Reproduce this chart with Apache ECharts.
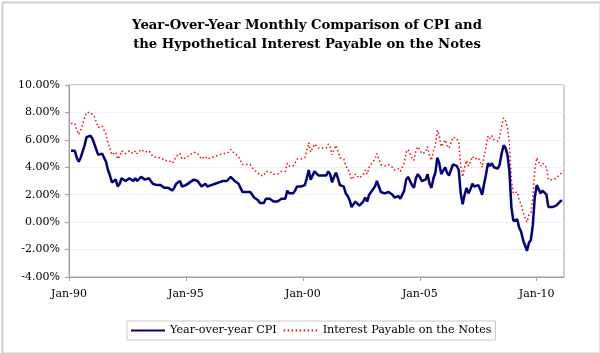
<!DOCTYPE html>
<html>
<head>
<meta charset="utf-8">
<script src="https://cdn.jsdelivr.net/npm/echarts@6/dist/echarts.min.js"></script>
<style>
html,body{margin:0;padding:0;background:#fff;}
#chart{width:600px;height:353px;}
</style>
</head>
<body>
<div id="chart"></div>
<script>
// Monthly values, Jan-1990 .. Jan-2011 (percent)
const cpi = [
 5.2, 5.3, 5.2, 4.7, 4.4, 4.7, 4.8, 5.6, 6.2, 6.3, 6.3, 6.1,
 5.7, 5.3, 4.9, 4.9, 5.0, 4.7, 4.4, 3.8, 3.4, 2.9, 3.0, 3.1,
 2.6, 2.8, 3.2, 3.2, 3.0, 3.1, 3.2, 3.1, 3.0, 3.2, 3.0, 2.9,
 3.3, 3.2, 3.1, 3.2, 3.2, 3.0, 2.8, 2.8, 2.7, 2.8, 2.7, 2.7,
 2.5, 2.5, 2.5, 2.4, 2.3, 2.5, 2.8, 2.9, 3.0, 2.6, 2.7, 2.7,
 2.8, 2.9, 2.9, 3.1, 3.2, 3.0, 2.8, 2.6, 2.5, 2.8, 2.6, 2.5,
 2.7, 2.7, 2.8, 2.9, 2.9, 2.8, 3.0, 2.9, 3.0, 3.0, 3.3, 3.3,
 3.0, 3.0, 2.8, 2.5, 2.2, 2.3, 2.2, 2.2, 2.2, 2.1, 1.8, 1.7,
 1.6, 1.4, 1.4, 1.4, 1.7, 1.7, 1.7, 1.6, 1.5, 1.5, 1.5, 1.6,
 1.7, 1.6, 1.7, 2.3, 2.1, 2.0, 2.1, 2.3, 2.6, 2.6, 2.6, 2.7,
 2.7, 3.2, 3.8, 3.1, 3.2, 3.7, 3.7, 3.4, 3.5, 3.4, 3.4, 3.4,
 3.7, 3.5, 2.9, 3.3, 3.6, 3.2, 2.7, 2.7, 2.6, 2.1, 1.9, 1.6,
 1.1, 1.1, 1.5, 1.6, 1.2, 1.1, 1.5, 1.8, 1.5, 2.0, 2.2, 2.4,
 2.6, 3.0, 3.0, 2.2, 2.1, 2.1, 2.1, 2.2, 2.3, 2.0, 1.8, 1.9,
 1.9, 1.7, 1.7, 2.3, 3.1, 3.3, 3.0, 2.7, 2.5, 3.2, 3.5, 3.3,
 3.0, 3.0, 3.1, 3.5, 2.8, 2.5, 3.2, 3.6, 4.7, 4.3, 3.5, 3.4,
 4.0, 3.6, 3.4, 3.5, 4.2, 4.3, 4.1, 3.8, 2.1, 1.3, 2.0, 2.5,
 2.1, 2.4, 2.8, 2.6, 2.7, 2.7, 2.4, 2.0, 2.8, 3.5, 4.3, 4.1,
 4.3, 4.0, 4.0, 3.9, 4.2, 5.0, 5.6, 5.4, 4.9, 3.7, 1.1, 0.1,
 0.0, 0.2, -0.4, -0.7, -1.3, -1.4, -2.1, -1.5, -1.3, -0.2, 1.8, 2.7,
 2.6, 2.1, 2.3, 2.2, 2.0, 1.1, 1.2, 1.1, 1.1, 1.2, 1.1, 1.5,
 1.6
];
const interest = [
 7.2, 7.3, 7.2, 6.7, 6.4, 6.7, 6.8, 7.6, 8.0, 8.0, 8.0, 8.0,
 7.7, 7.3, 6.9, 6.9, 7.0, 6.7, 6.4, 5.8, 5.4, 4.9, 5.0, 5.1,
 4.6, 4.8, 5.2, 5.2, 5.0, 5.1, 5.2, 5.1, 5.0, 5.2, 5.0, 4.9,
 5.3, 5.2, 5.1, 5.2, 5.2, 5.0, 4.8, 4.8, 4.7, 4.8, 4.7, 4.7,
 4.5, 4.5, 4.5, 4.4, 4.3, 4.5, 4.8, 4.9, 5.0, 4.6, 4.7, 4.7,
 4.8, 4.9, 4.9, 5.1, 5.2, 5.0, 4.8, 4.6, 4.5, 4.8, 4.6, 4.5,
 4.7, 4.7, 4.8, 4.9, 4.9, 4.8, 5.0, 4.9, 5.0, 5.0, 5.3, 5.3,
 5.0, 5.0, 4.8, 4.5, 4.2, 4.3, 4.2, 4.2, 4.2, 4.1, 3.8, 3.7,
 3.6, 3.4, 3.4, 3.4, 3.7, 3.7, 3.7, 3.6, 3.5, 3.5, 3.5, 3.6,
 3.7, 3.6, 3.7, 4.3, 4.1, 4.0, 4.1, 4.3, 4.6, 4.6, 4.6, 4.7,
 4.7, 5.2, 5.8, 5.1, 5.2, 5.7, 5.7, 5.4, 5.5, 5.4, 5.4, 5.4,
 5.7, 5.5, 4.9, 5.3, 5.6, 5.2, 4.7, 4.7, 4.6, 4.1, 3.9, 3.6,
 3.1, 3.1, 3.5, 3.6, 3.2, 3.1, 3.5, 3.8, 3.5, 4.0, 4.2, 4.4,
 4.6, 5.0, 5.0, 4.2, 4.1, 4.1, 4.1, 4.2, 4.3, 4.0, 3.8, 3.9,
 3.9, 3.7, 3.7, 4.3, 5.1, 5.3, 5.0, 4.7, 4.5, 5.2, 5.5, 5.3,
 5.0, 5.0, 5.1, 5.5, 4.8, 4.5, 5.2, 5.6, 6.7, 6.3, 5.5, 5.4,
 6.0, 5.6, 5.4, 5.5, 6.2, 6.3, 6.1, 5.8, 4.1, 3.3, 4.0, 4.5,
 4.1, 4.4, 4.8, 4.6, 4.7, 4.7, 4.4, 4.0, 4.8, 5.5, 6.3, 6.1,
 6.3, 6.0, 6.0, 5.9, 6.2, 7.0, 7.6, 7.4, 6.9, 5.7, 3.1, 2.1,
 2.0, 2.2, 1.6, 1.3, 0.7, 0.6, 0.0, 0.5, 0.7, 1.8, 3.8, 4.7,
 4.6, 4.1, 4.3, 4.2, 4.0, 3.1, 3.2, 3.1, 3.1, 3.2, 3.1, 3.5,
 3.6
];
const tickLabels = ['Jan-90', 'Jan-95', 'Jan-00', 'Jan-05', 'Jan-10'];
const seriesNames = ['Year-over-year CPI', 'Interest Payable on the Notes'];
const titleText = 'Year-Over-Year Monthly Comparison of CPI and\nthe Hypothetical Interest Payable on the Notes';

// x = months since Jan-1990, point placed at month end
const toPts = arr => arr.map((v, i) => [i + 1, v]);

const FONT = '"DejaVu Serif", "Liberation Serif", serif';
const chart = echarts.init(document.getElementById('chart'), null, {renderer: 'canvas'});
chart.setOption({
  animation: false,
  backgroundColor: '#ffffff',
  graphic: [{
    type: 'rect', left: 0, top: 0, z: 100, silent: true,
    shape: {x: 1, y: 1, width: 598, height: 351},
    style: {fill: 'none', stroke: '#cfcfcf', lineWidth: 2}
  }],
  title: {
    text: titleText,
    left: 302, top: 11, textAlign: 'center',
    textStyle: {fontFamily: FONT, fontWeight: 'bold', fontSize: 13.2, lineHeight: 19, color: '#000'}
  },
  legend: {
    data: seriesNames,
    left: 127, top: 321,
    padding: [4, 4, 4, 3],
    itemGap: 6, itemWidth: 34, itemHeight: 12,
    borderColor: '#c8c8c8', borderWidth: 1,
    itemStyle: {opacity: 0},
    textStyle: {fontFamily: FONT, fontSize: 11.2, color: '#000'}
  },
  grid: {
    left: 69, right: 36, top: 85, bottom: 76,
    show: true, borderColor: '#a0a0a0', borderWidth: 1, containLabel: false
  },
  xAxis: {
    type: 'value', min: 0, max: 254, interval: 60,
    axisLine: {show: true, onZero: false, lineStyle: {color: '#a0a0a0', width: 1}},
    axisTick: {show: true, length: 4, lineStyle: {color: '#a0a0a0'}},
    splitLine: {show: false},
    axisLabel: {
      margin: 12, fontFamily: FONT, fontSize: 11, color: '#000',
      formatter: v => tickLabels[Math.round(v / 60)] || ''
    }
  },
  yAxis: {
    type: 'value', min: -4, max: 10, interval: 2,
    axisLine: {show: true, lineStyle: {color: '#a0a0a0', width: 1}},
    axisTick: {show: true, length: 4, lineStyle: {color: '#a0a0a0'}},
    splitLine: {show: true, lineStyle: {color: '#f0f0f0', width: 1}},
    axisLabel: {
      margin: 9, fontFamily: FONT, fontSize: 11, color: '#000',
      formatter: v => v.toFixed(2) + '%'
    }
  },
  series: [
    {
      name: seriesNames[0], type: 'line', data: toPts(cpi),
      symbol: 'none', showSymbol: false, z: 3,
      lineStyle: {color: '#000080', width: 2.5},
      itemStyle: {color: '#000080'}
    },
    {
      name: seriesNames[1], type: 'line', data: toPts(interest),
      symbol: 'none', showSymbol: false, z: 2,
      lineStyle: {color: '#ff0000', width: 1.5, type: [1.5, 2.5]},
      itemStyle: {color: '#ff0000'}
    }
  ]
});
</script>
</body>
</html>
